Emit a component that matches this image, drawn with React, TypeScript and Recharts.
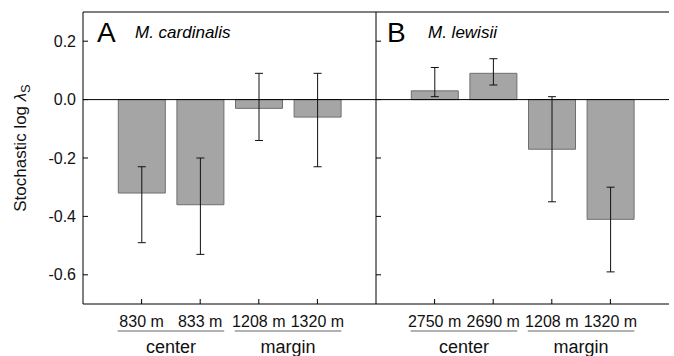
import React from 'react';
import { Bar, BarChart, ErrorBar, ReferenceLine, XAxis, YAxis } from 'recharts';

const cardinalisSites = ['830 m', '833 m', '1208 m', '1320 m'];
const cardinalisLogLambda = [-0.32, -0.36, -0.03, -0.06];
const cardinalisLower = [-0.49, -0.53, -0.14, -0.23];
const cardinalisUpper = [-0.23, -0.2, 0.09, 0.09];

const lewisiiSites = ['2750 m', '2690 m', '1208 m', '1320 m'];
const lewisiiLogLambda = [0.03, 0.09, -0.17, -0.41];
const lewisiiLower = [0.01, 0.05, -0.35, -0.59];
const lewisiiUpper = [0.11, 0.14, 0.01, -0.3];

const siteGroups = ['center', 'center', 'margin', 'margin'];
const yTicks = [0.2, 0, -0.2, -0.4, -0.6];
const yDomain: [number, number] = [-0.7, 0.3];

const FONT = '"Liberation Sans", Arial, sans-serif';
const PLOT_W = 293;
const BAND = PLOT_W / 5;
const PAD = BAND / 2;

type Row = { site: string; group: string; value: number; err: [number, number] };

function buildRows(sites: string[], values: number[], lower: number[], upper: number[]): Row[] {
  return sites.map((site, i) => ({
    site,
    group: siteGroups[i],
    value: values[i],
    err: [values[i] - lower[i], upper[i] - values[i]]
  }));
}

const cardinalisRows = buildRows(cardinalisSites, cardinalisLogLambda, cardinalisLower, cardinalisUpper);
const lewisiiRows = buildRows(lewisiiSites, lewisiiLogLambda, lewisiiLower, lewisiiUpper);

function makeSiteTick(rows: Row[]) {
  return function SiteTick(props: any) {
    const { x, y, index } = props;
    const row = rows[index];
    if (!row) return <g />;
    const firstOfGroup = index === 0 || rows[index - 1].group !== row.group;
    return (
      <g>
        <text x={x} y={y + 28} textAnchor="middle" fontSize={16} fontFamily={FONT} fill="#111">
          {row.site}
        </text>
        {firstOfGroup && (
          <>
            <line x1={x - 24} x2={x + BAND + 24} y1={y + 32} y2={y + 32} stroke="#666" strokeWidth={1} />
            <text x={x + BAND / 2} y={y + 54} textAnchor="middle" fontSize={18} fontFamily={FONT} fill="#111">
              {row.group}
            </text>
          </>
        )}
      </g>
    );
  };
}

const noTick = () => <g />;

function Panel({ rows, width, yAxisWidth, showLabels, rightFrame }: { rows: Row[]; width: number; yAxisWidth: number; showLabels: boolean; rightFrame: boolean }) {
  return (
    <BarChart
      width={width}
      height={356}
      data={rows}
      barSize={47}
      margin={{ top: 12, right: width - yAxisWidth - PLOT_W, bottom: 0, left: 0 }}
    >
      <XAxis
        dataKey="site"
        height={52}
        padding={{ left: PAD, right: PAD }}
        axisLine={{ stroke: '#000' }}
        tickLine={{ stroke: '#000' }}
        tickSize={-5}
        tickMargin={0}
        interval={0}
        tick={makeSiteTick(rows)}
      />
      <YAxis
        width={yAxisWidth}
        domain={yDomain}
        ticks={yTicks}
        axisLine={{ stroke: '#000' }}
        tickLine={{ stroke: '#000' }}
        tickSize={-5}
        tickMargin={12}
        tick={showLabels ? { fontSize: 16, fontFamily: FONT, fill: '#111' } : noTick}
        tickFormatter={(v: number) => v.toFixed(1)}
      />
      {rightFrame && (
        <YAxis yAxisId="frame" orientation="right" width={0} domain={yDomain} tick={false} tickLine={false} axisLine={{ stroke: '#000' }} />
      )}
      <ReferenceLine y={yDomain[1]} stroke="#000" />
      <Bar dataKey="value" fill="#a5a5a5" stroke="#6f6f6f" strokeWidth={1} isAnimationActive={false}>
        <ErrorBar dataKey="err" direction="y" width={4} stroke="#111" strokeWidth={1} />
      </Bar>
      <ReferenceLine y={0} stroke="#000" />
    </BarChart>
  );
}

export default function App() {
  return (
    <div style={{ position: 'fixed', left: 0, top: 0, width: 674, height: 356, background: '#fff', fontFamily: FONT }}>
      <div style={{ position: 'absolute', left: 0, top: 0 }}>
        <Panel rows={cardinalisRows} width={380} yAxisWidth={83} showLabels rightFrame={false} />
      </div>
      <div style={{ position: 'absolute', left: 370, top: 0 }}>
        <Panel rows={lewisiiRows} width={304} yAxisWidth={6} showLabels={false} rightFrame />
      </div>
      <svg width={674} height={356} style={{ position: 'absolute', left: 0, top: 0, pointerEvents: 'none' }}>
        <text x={97} y={42} fontSize={28} fontFamily={FONT} fill="#000">A</text>
        <text x={135} y={38} fontSize={17} fontStyle="italic" fontFamily={FONT} fill="#000">M. cardinalis</text>
        <text x={387} y={42} fontSize={28} fontFamily={FONT} fill="#000">B</text>
        <text x={428} y={38} fontSize={17} fontStyle="italic" fontFamily={FONT} fill="#000">M. lewisii</text>
        <text transform="translate(26,148) rotate(-90)" textAnchor="middle" fontSize={17} fontFamily={FONT} fill="#111">
          Stochastic log <tspan fontStyle="italic">λ</tspan>
          <tspan fontSize={13} dy={4}>S</tspan>
        </text>
      </svg>
    </div>
  );
}
